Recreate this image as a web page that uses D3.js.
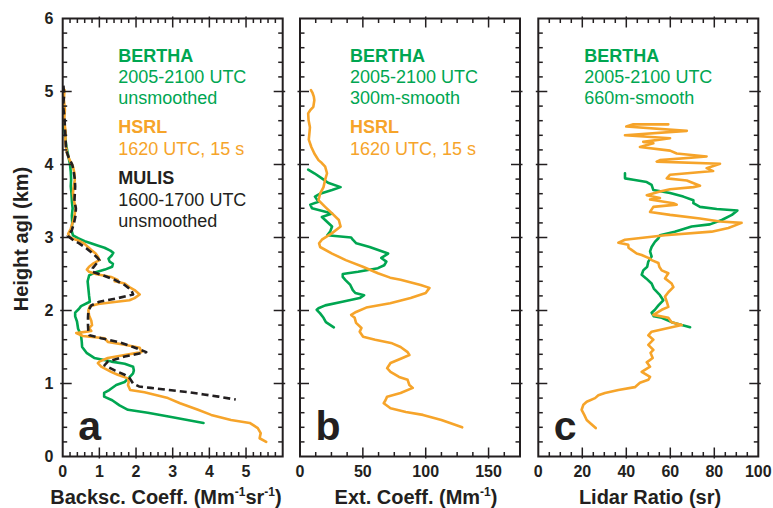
<!DOCTYPE html>
<html>
<head>
<meta charset="utf-8">
<script src="https://cdn.jsdelivr.net/npm/d3@7"></script>
<style>
  body { margin: 0; background: #fff; }
  svg { display: block; }
  text { font-family: "Liberation Sans", Arial, Helvetica, sans-serif; }
</style>
</head>
<body>
<svg id="chart" width="773" height="508"></svg>
<script>
// ---- Profiles: [height agl (km), value] ----
// Panel a: backscatter coefficient (Mm-1 sr-1)
const berthaBackscatter = [
  [4.55,0.03],[4.4,0.06],[4.25,0.1],[4.1,0.16],[4.0,0.2],[3.9,0.22],[3.8,0.23],[3.7,0.22],
  [3.6,0.24],[3.5,0.25],[3.4,0.27],[3.3,0.25],[3.2,0.26],[3.1,0.24],[3.03,0.28],[2.99,0.42],
  [2.95,0.6],[2.92,0.77],[2.89,0.95],[2.86,1.14],[2.82,1.3],[2.79,1.38],[2.75,1.33],[2.71,1.25],
  [2.67,1.28],[2.64,1.37],[2.6,1.35],[2.56,1.15],[2.52,0.88],[2.48,0.72],[2.4,0.68],[2.3,0.7],
  [2.2,0.72],[2.12,0.74],[2.06,0.5],[2.02,0.44],[1.97,0.34],[1.92,0.34],[1.85,0.39],[1.75,0.42],
  [1.66,0.5],[1.57,0.52],[1.5,0.53],[1.42,0.65],[1.35,0.86],[1.3,1.33],[1.27,1.69],[1.23,1.92],
  [1.18,1.94],[1.14,1.92],[1.09,1.83],[1.02,1.69],[0.98,1.46],[0.91,1.27],[0.87,1.13],[0.82,1.13],
  [0.77,1.35],[0.7,1.55],[0.64,1.78],[0.6,2.32],[0.54,2.96],[0.5,3.4],[0.46,3.84]
];
const hsrlBackscatter = [
  [5.02,0.05],[4.9,0.03],[4.75,0.06],[4.6,0.04],[4.45,0.08],[4.3,0.07],[4.15,0.12],[4.06,0.19],
  [3.97,0.28],[3.88,0.32],[3.79,0.33],[3.7,0.3],[3.61,0.28],[3.5,0.31],[3.4,0.35],[3.33,0.33],
  [3.25,0.3],[3.2,0.27],[3.12,0.22],[3.05,0.15],[3.0,0.2],[2.96,0.42],[2.92,0.58],[2.87,0.69],
  [2.82,0.8],[2.78,0.9],[2.73,0.97],[2.69,1.0],[2.65,0.85],[2.6,0.72],[2.56,0.66],[2.53,0.72],
  [2.5,0.9],[2.46,1.32],[2.42,1.5],[2.4,1.42],[2.37,1.69],[2.32,1.82],[2.28,1.96],[2.22,2.1],
  [2.17,1.96],[2.14,1.82],[2.11,1.3],[2.09,0.97],[2.06,0.74],[2.0,0.7],[1.93,0.72],[1.86,0.78],
  [1.8,0.8],[1.76,0.72],[1.72,0.78],[1.69,0.37],[1.65,0.55],[1.62,1.14],[1.57,1.23],[1.53,1.69],
  [1.49,2.1],[1.43,2.15],[1.39,1.69],[1.35,1.23],[1.3,1.0],[1.28,0.96],[1.23,1.05],[1.16,1.32],
  [1.12,1.5],[1.07,1.78],[1.02,1.8],[0.98,1.78],[0.91,1.84],[0.88,2.23],[0.8,2.87],[0.73,3.2],
  [0.64,3.69],[0.57,4.05],[0.5,4.59],[0.46,5.1],[0.39,5.32],[0.32,5.4],[0.25,5.37],[0.2,5.55]
];
const mulisBackscatter = [
  [5.08,0.02],[4.95,0.04],[4.8,0.01],[4.65,0.05],[4.5,0.06],[4.35,0.08],[4.2,0.09],[4.1,0.16],
  [4.0,0.26],[3.9,0.3],[3.8,0.33],[3.7,0.34],[3.6,0.33],[3.5,0.32],[3.4,0.36],[3.3,0.35],
  [3.2,0.31],[3.1,0.25],[3.02,0.14],[2.96,0.3],[2.92,0.45],[2.85,0.65],[2.79,0.8],[2.73,0.93],
  [2.69,1.0],[2.63,0.9],[2.58,0.82],[2.53,0.8],[2.49,1.05],[2.42,1.42],[2.35,1.69],[2.28,1.87],
  [2.22,1.92],[2.17,1.51],[2.12,1.0],[2.07,0.78],[2.0,0.7],[1.9,0.69],[1.8,0.69],[1.7,0.7],
  [1.66,0.73],[1.62,1.05],[1.57,1.51],[1.5,1.92],[1.43,2.28],[1.37,1.69],[1.3,1.23],[1.25,1.14],
  [1.18,1.42],[1.12,1.69],[1.07,1.83],[1.0,1.92],[0.96,2.08],[0.94,2.4],[0.91,2.9],[0.88,3.45],
  [0.85,3.85],[0.82,4.25],[0.78,4.72]
];

// Panel b: extinction coefficient (Mm-1)
const berthaExtinction = [
  [3.93,6.5],[3.88,11.4],[3.81,17.4],[3.75,22.3],[3.69,32.3],[3.65,25.5],[3.6,16],[3.56,11.9],
  [3.49,14.7],[3.45,8.2],[3.4,9.5],[3.33,25.5],[3.28,17.4],[3.24,20],[3.15,25.5],[3.08,24],
  [3.03,21.7],[3.0,40.7],[2.97,42],[2.92,44.8],[2.87,55.4],[2.78,70.1],[2.72,64.7],[2.67,68.7],
  [2.62,67],[2.58,62],[2.53,46.2],[2.5,34],[2.46,34],[2.42,36],[2.35,40],[2.28,42],[2.24,44],
  [2.21,51],[2.17,47.5],[2.12,33.7],[2.07,20.1],[2.03,14.7],[2.01,13.3],[1.96,16],[1.9,18.7],
  [1.84,20.6],[1.77,26.9]
];
const hsrlExtinction = [
  [5.02,8.7],[4.98,10],[4.93,11],[4.88,11.4],[4.79,10.6],[4.74,8],[4.7,6.5],[4.61,6.8],
  [4.51,7.9],[4.43,7.5],[4.34,7],[4.24,9],[4.15,11.4],[4.06,14.7],[4.02,17.4],[3.97,20],
  [3.88,21.5],[3.79,20],[3.69,18.7],[3.6,16],[3.51,14.7],[3.42,20],[3.33,25.5],[3.24,30.9],
  [3.15,32.3],[3.06,25.5],[2.97,17.4],[2.92,15.2],[2.87,16],[2.78,25.5],[2.69,36.4],[2.6,50],
  [2.51,62],[2.45,71.7],[2.42,80],[2.35,96],[2.31,103],[2.24,100],[2.17,88],[2.1,71.7],
  [2.04,52.7],[1.98,44.6],[1.94,40.7],[1.9,43.5],[1.83,44.6],[1.76,48.9],[1.71,47.5],[1.64,50.2],
  [1.6,59.8],[1.55,73.3],[1.5,80],[1.43,85.6],[1.39,87],[1.35,81.5],[1.28,72],[1.21,69.3],
  [1.16,72],[1.09,78.8],[1.05,85.6],[0.98,87],[0.94,89.7],[0.87,80],[0.82,69.3],[0.77,68],
  [0.73,66.6],[0.66,72],[0.61,84.2],[0.57,97.8],[0.5,112.5],[0.4,129]
];

// Panel c: lidar ratio (sr)
const berthaLidarRatio = [
  [3.88,39.4],[3.81,39.4],[3.79,43.2],[3.76,49.3],[3.72,51.5],[3.65,52.3],[3.61,59.9],[3.56,65.9],
  [3.51,70.5],[3.47,70.5],[3.42,73.5],[3.39,81.1],[3.37,90.5],[3.31,88],[3.24,83.4],[3.18,78],
  [3.15,69.7],[3.08,62],[3.03,55.3],[2.99,54.6],[2.94,53],[2.87,51.5],[2.81,50.8],[2.74,51.5],
  [2.67,50],[2.6,49.5],[2.55,47.7],[2.49,47],[2.44,49],[2.37,51.5],[2.3,52.5],[2.21,55.3],
  [2.14,56.8],[2.07,54.6],[2.01,53],[1.97,51.5],[1.92,52.5],[1.9,56.1],[1.84,60.6],[1.8,65.2],
  [1.77,69]
];
const hsrlLidarRatio = [
  [4.55,59.1],[4.55,43.2],[4.52,40],[4.46,67.5],[4.4,39.4],[4.36,59.9],[4.31,47.7],[4.29,52.3],
  [4.24,46.2],[4.19,59.9],[4.15,62.9],[4.11,76.5],[4.06,55.3],[4.04,53.8],[4.01,82.6],[3.95,76.5],
  [3.91,79.5],[3.86,59.9],[3.81,58.4],[3.78,67.5],[3.71,73.5],[3.69,70.5],[3.66,59.9],[3.63,55.3],
  [3.58,49.3],[3.54,55.3],[3.52,50.8],[3.47,61.4],[3.45,62.9],[3.42,52.3],[3.35,50.8],[3.31,59.9],
  [3.26,73.5],[3.22,82.6],[3.2,92.4],[3.13,86.4],[3.08,78.8],[3.03,57.6],[2.97,39.4],[2.93,36.4],
  [2.9,40.9],[2.86,41],[2.83,42.4],[2.78,44.7],[2.76,47],[2.71,50.8],[2.69,51.5],[2.65,54.6],
  [2.6,55],[2.55,56.1],[2.51,59.1],[2.44,57.6],[2.37,60.6],[2.32,61.4],[2.25,59.1],[2.19,57.6],
  [2.12,58.4],[2.05,59.1],[2.01,56.1],[1.94,52.3],[1.9,59.1],[1.84,60.6],[1.8,65.2],[1.76,59.1],
  [1.71,51.5],[1.66,50],[1.6,52.3],[1.53,50],[1.46,52.3],[1.42,51],[1.35,52],[1.29,49.3],
  [1.23,50.8],[1.16,47],[1.09,50.8],[1.05,50],[1.01,46.2],[0.95,43.9],[0.91,36.4],[0.87,30.3],
  [0.84,27.3],[0.8,25.8],[0.75,22],[0.71,20.5],[0.64,19.7],[0.57,20.9],[0.5,22],[0.46,23.5],
  [0.39,26.1]
];

// ---- Tick labels ----
const heightTicks = [0, 1, 2, 3, 4, 5, 6];
const backscTicks = [0, 1, 2, 3, 4, 5];
const extTicks = [0, 50, 100, 150];
const lidarTicks = [0, 20, 40, 60, 80, 100];

const GREEN = "#00a651", ORANGE = "#f6a42a", BLACK = "#231f20";

const svg = d3.select("#chart");
const frameTop = 18.5, frameBottom = 456.5, panelW = 220;
const y = d3.scaleLinear().domain([0, 6]).range([frameBottom, frameTop]);

const panels = [
  {
    left: 62.7, domain: [0, 6], minor: 0.2, major: 1, ticks: backscTicks, letter: "a",
    series: [
      { data: berthaBackscatter, color: GREEN },
      { data: hsrlBackscatter, color: ORANGE },
      { data: mulisBackscatter, color: BLACK, dash: "7,4" }
    ],
    legendX: 118.3,
    legend: [
      ["BERTHA", GREEN, true, 61.7], ["2005-2100 UTC", GREEN, false, 83.3], ["unsmoothed", GREEN, false, 104],
      ["HSRL", ORANGE, true, 133.3], ["1620 UTC, 15 s", ORANGE, false, 155.3],
      ["MULIS", BLACK, true, 184.3], ["1600-1700 UTC", BLACK, false, 206], ["unsmoothed", BLACK, false, 226.5]
    ],
    title: [["Backsc. Coeff. (Mm"], ["-1", true], ["sr"], ["-1", true], [")"]], titleX: 166
  },
  {
    left: 300, domain: [0, 175], minor: 12.5, major: 50, ticks: extTicks, letter: "b",
    series: [
      { data: berthaExtinction, color: GREEN },
      { data: hsrlExtinction, color: ORANGE }
    ],
    legendX: 350,
    legend: [
      ["BERTHA", GREEN, true, 61.7], ["2005-2100 UTC", GREEN, false, 83.3], ["300m-smooth", GREEN, false, 104],
      ["HSRL", ORANGE, true, 133.3], ["1620 UTC, 15 s", ORANGE, false, 155.3]
    ],
    title: [["Ext. Coeff. (Mm"], ["-1", true], [")"]], titleX: 416
  },
  {
    left: 538.3, domain: [0, 100], minor: 5, major: 20, ticks: lidarTicks, letter: "c",
    series: [
      { data: berthaLidarRatio, color: GREEN },
      { data: hsrlLidarRatio, color: ORANGE }
    ],
    legendX: 584.3,
    legend: [
      ["BERTHA", GREEN, true, 61.7], ["2005-2100 UTC", GREEN, false, 83.3], ["660m-smooth", GREEN, false, 104]
    ],
    title: [["Lidar Ratio (sr)"]], titleX: 650
  }
];

panels.forEach(p => {
  const x = d3.scaleLinear().domain(p.domain).range([p.left, p.left + panelW]);
  const g = svg.append("g");

  // profiles
  const line = d3.line().x(d => x(d[1])).y(d => y(d[0]));
  p.series.forEach(s => {
    g.append("path").datum(s.data)
      .attr("d", line)
      .attr("fill", "none")
      .attr("stroke", s.color)
      .attr("stroke-width", 2.6)
      .attr("stroke-linejoin", "round")
      .attr("stroke-linecap", s.dash ? "butt" : "round")
      .attr("stroke-dasharray", s.dash || null);
  });

  // frame ticks
  const tickG = g.append("g").attr("stroke", BLACK).attr("stroke-width", 1.5);
  const isMajor = (v, step) => Math.abs(v / step - Math.round(v / step)) < 1e-6;
  const nX = Math.round((p.domain[1] - p.domain[0]) / p.minor);
  d3.range(1, nX).forEach(k => {
    const v = p.domain[0] + k * p.minor;
    const maj = isMajor(v, p.major);
    const len = maj ? 9 : 4.5, out = maj ? 2 : 0;
    const xx = x(v);
    tickG.append("line").attr("x1", xx).attr("x2", xx).attr("y1", frameBottom + out).attr("y2", frameBottom - len);
    tickG.append("line").attr("x1", xx).attr("x2", xx).attr("y1", frameTop - out).attr("y2", frameTop + len);
  });
  d3.range(1, 30).forEach(k => {
    const v = k * 0.2;
    const maj = isMajor(v, 1);
    const len = maj ? 9 : 4.5, out = maj ? 2.5 : 0;
    const yy = y(v);
    tickG.append("line").attr("x1", p.left - out).attr("x2", p.left + len).attr("y1", yy).attr("y2", yy);
    tickG.append("line").attr("x1", p.left + panelW + out).attr("x2", p.left + panelW - len).attr("y1", yy).attr("y2", yy);
  });

  // frame
  g.append("rect")
    .attr("x", p.left).attr("y", frameTop)
    .attr("width", panelW).attr("height", frameBottom - frameTop)
    .attr("fill", "none").attr("stroke", BLACK).attr("stroke-width", 2);

  // x tick labels
  g.selectAll("text.xt").data(p.ticks).join("text")
    .attr("class", "xt")
    .attr("x", d => x(d)).attr("y", 476.5)
    .attr("text-anchor", "middle")
    .attr("font-size", 16).attr("font-weight", "bold").attr("fill", BLACK)
    .text(d => d);

  // x axis title, with raised exponents
  const t = g.append("text")
    .attr("x", p.titleX).attr("y", 504)
    .attr("text-anchor", "middle")
    .attr("font-size", 20).attr("font-weight", "bold").attr("fill", BLACK);
  let raised = false;
  p.title.forEach(([str, sup]) => {
    const dy = sup ? (raised ? 0 : -8) : (raised ? 8 : 0);
    t.append("tspan")
      .attr("font-size", sup ? 12 : 20)
      .attr("dy", dy)
      .text(str);
    raised = !!sup;
  });

  // legend text
  p.legend.forEach(([str, color, bold, yy]) => {
    g.append("text")
      .attr("x", p.legendX).attr("y", yy)
      .attr("font-size", 18)
      .attr("font-weight", bold ? "bold" : "normal")
      .attr("fill", color)
      .text(str);
  });

  // panel letter
  g.append("text")
    .attr("x", p.left + 15.5).attr("y", 439.5)
    .attr("font-size", 41).attr("font-weight", "bold").attr("fill", BLACK)
    .text(p.letter);
});

// y tick labels (panel a only)
svg.selectAll("text.yt").data(heightTicks).join("text")
  .attr("class", "yt")
  .attr("x", 53.5).attr("y", d => y(d))
  .attr("dy", "0.36em")
  .attr("text-anchor", "end")
  .attr("font-size", 16).attr("font-weight", "bold").attr("fill", BLACK)
  .text(d => d);

// y axis title
svg.append("text")
  .attr("transform", "translate(27.5,239) rotate(-90)")
  .attr("text-anchor", "middle")
  .attr("font-size", 20).attr("font-weight", "bold").attr("fill", BLACK)
  .text("Height agl (km)");
</script>
</body>
</html>
